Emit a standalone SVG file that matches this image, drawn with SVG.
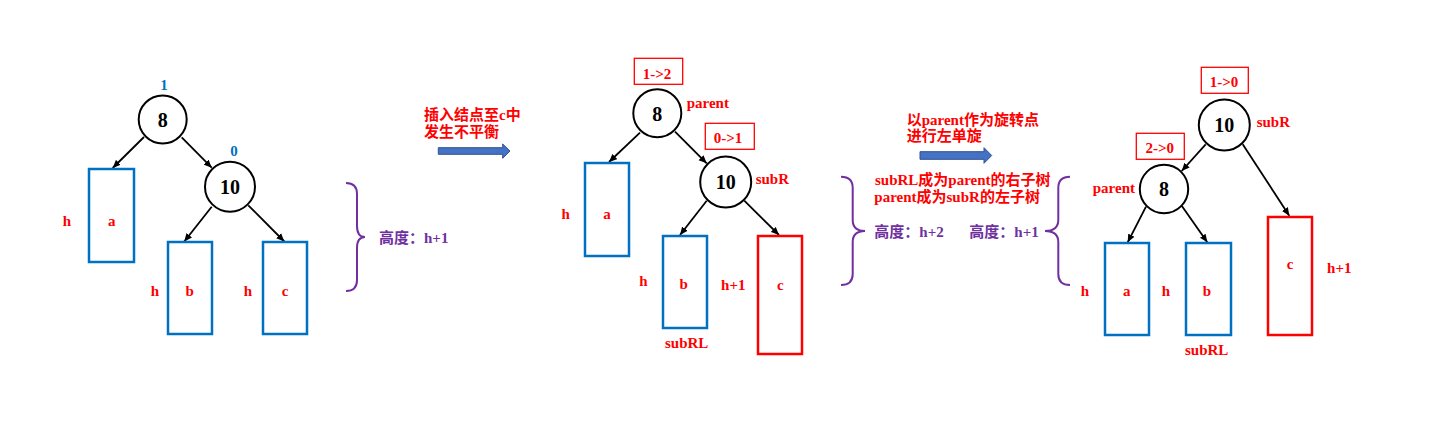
<svg xmlns="http://www.w3.org/2000/svg" width="1434" height="425" viewBox="0 0 1434 425">
<style>
.bg{fill:#fff}
.node circle{fill:#fff;stroke:#000;stroke-width:2}
.num{font-family:"Liberation Serif","Noto Sans CJK SC",serif;font-weight:bold;font-size:20px;fill:#000;text-anchor:middle}
.lbl{font-family:"Liberation Serif","Noto Sans CJK SC",serif;font-weight:bold;font-size:15px;fill:#f00}
.mid{text-anchor:middle}
.bal{font-family:"Liberation Serif","Noto Sans CJK SC",serif;font-weight:bold;font-size:15px;fill:#0070C0;text-anchor:middle}
.pur{font-family:"Liberation Serif","Noto Sans CJK SC",serif;font-weight:bold;font-size:15px;fill:#7030A0}
.cjk{font-family:"Noto Sans CJK SC","Liberation Serif",sans-serif;font-weight:bold;font-size:15px}
.sbt rect{fill:#fff;stroke:#0070C0;stroke-width:2.5}
.sbt.red rect{stroke:#f00}
.box{fill:none;stroke:#f00;stroke-width:1.3}
.brace{fill:none;stroke:#7030A0;stroke-width:2}
.edge{stroke:#000;stroke-width:1.8;fill:none;marker-end:url(#ah)}
.barrow{fill:#4472C4;stroke:#2F528F;stroke-width:1}
</style>
<defs>
<marker id="ah" viewBox="0 0 8 8" refX="8" refY="4" markerWidth="8" markerHeight="8" markerUnits="userSpaceOnUse" orient="auto">
<path d="M0,0.5 L8,4 L0,7.5 z" fill="#000"/>
</marker>
</defs>
<rect class="bg" x="0" y="0" width="1434" height="425"/>

<!-- connectors -->
<g id="connectors">
<line class="edge" x1="144" y1="137" x2="112.7" y2="168"/>
<line class="edge" x1="181.7" y1="137.3" x2="211.7" y2="167.7"/>
<line class="edge" x1="211.7" y1="206.7" x2="184.3" y2="241.5"/>
<line class="edge" x1="248.3" y1="205.3" x2="284.3" y2="241.5"/>

<line class="edge" x1="640" y1="132.7" x2="609" y2="162"/>
<line class="edge" x1="675" y1="131.7" x2="706.7" y2="163.3"/>
<line class="edge" x1="706.7" y1="200.7" x2="680" y2="235"/>
<line class="edge" x1="744.3" y1="200.7" x2="779" y2="235"/>

<line class="edge" x1="1205.7" y1="144.3" x2="1181.7" y2="171"/>
<line class="edge" x1="1242.7" y1="144.3" x2="1289.3" y2="215.7"/>
<line class="edge" x1="1146" y1="206.7" x2="1127.7" y2="242.3"/>
<line class="edge" x1="1181.7" y1="205.7" x2="1207.3" y2="242.3"/>
</g>

<!-- Tree 1 -->
<g id="t1-n8" class="node"><circle cx="162.7" cy="119.5" r="24"/><text class="num" x="162.7" y="126.7">8</text></g>
<g id="t1-n10" class="node"><circle cx="230" cy="186.7" r="25"/><text class="num" x="230" y="194">10</text></g>
<text class="bal" x="164" y="89.5">1</text>
<text class="bal" x="234" y="156">0</text>
<g id="t1-a" class="sbt"><rect x="89" y="169" width="45" height="93"/><text class="lbl mid" x="111.7" y="226">a</text></g>
<g id="t1-b" class="sbt"><rect x="168" y="242" width="44" height="92"/><text class="lbl mid" x="189.7" y="296">b</text></g>
<g id="t1-c" class="sbt"><rect x="263" y="242" width="44" height="92"/><text class="lbl mid" x="285" y="296">c</text></g>
<text class="lbl mid" x="67" y="226">h</text>
<text class="lbl mid" x="155" y="296">h</text>
<text class="lbl mid" x="248" y="296">h</text>
<path class="brace" d="M346,183 Q357,183 357,194 L357,226 Q357,237 365,237 Q357,237 357,248 L357,280 Q357,291 346,291"/>
<text class="pur" x="379" y="243">高度：h+1</text>

<!-- Step arrow 1 -->
<text class="lbl" x="424" y="119.5">插入结点至c中</text>
<text class="lbl" x="424" y="137">发生不平衡</text>
<polygon class="barrow" points="438.3,147.7 502.7,147.7 502.7,144 510,151 502.7,158.3 502.7,154.3 438.3,154.3"/>

<!-- Tree 2 -->
<rect class="box" x="634.3" y="58.3" width="48.4" height="26"/>
<text class="lbl mid" x="657" y="78.5">1-&gt;2</text>
<g id="t2-n8" class="node"><circle cx="657.3" cy="113.3" r="24"/><text class="num" x="657.3" y="120.7">8</text></g>
<text class="lbl" x="686.7" y="108">parent</text>
<rect class="box" x="705.3" y="123.3" width="49" height="26"/>
<text class="lbl mid" x="728" y="143.3">0-&gt;1</text>
<g id="t2-n10" class="node"><circle cx="725.7" cy="182" r="25.5"/><text class="num" x="725.7" y="189.3">10</text></g>
<text class="lbl" x="755.7" y="184.3">subR</text>
<g id="t2-a" class="sbt"><rect x="585" y="163" width="44" height="93"/><text class="lbl mid" x="607" y="219.3">a</text></g>
<g id="t2-b" class="sbt"><rect x="663" y="236" width="44" height="92"/><text class="lbl mid" x="683.7" y="289.3">b</text></g>
<g id="t2-c" class="sbt red"><rect x="758" y="236" width="44" height="118"/><text class="lbl mid" x="780.3" y="290">c</text></g>
<text class="lbl mid" x="565.7" y="219.3">h</text>
<text class="lbl mid" x="643.3" y="286">h</text>
<text class="lbl mid" x="733.3" y="290">h+1</text>
<text class="lbl mid" x="686.7" y="348.3">subRL</text>
<path class="brace" d="M841,176.7 Q852.7,176.7 852.7,188 L852.7,220 Q852.7,231 865,231 Q852.7,231 852.7,242 L852.7,274 Q852.7,285 841,285"/>

<!-- Step arrow 2 -->
<text class="lbl" x="906.7" y="124.5">以parent作为旋转点</text>
<text class="lbl" x="906.7" y="141">进行左单旋</text>
<polygon class="barrow" points="920,151.7 984,151.7 984,147.7 991.7,155.5 984,163.3 984,159.3 920,159.3"/>
<text class="lbl" x="875" y="184.5">subRL成为parent的右子树</text>
<text class="lbl" x="874.3" y="202">parent成为subR的左子树</text>
<text class="pur" x="874.3" y="237">高度：h+2</text>
<text class="pur" x="969.3" y="237">高度：h+1</text>
<path class="brace" d="M1070,176.7 Q1058.3,176.7 1058.3,188 L1058.3,220 Q1058.3,231 1045,231 Q1058.3,231 1058.3,242 L1058.3,274 Q1058.3,285 1070,285"/>

<!-- Tree 3 -->
<rect class="box" x="1201.3" y="67.3" width="47" height="26"/>
<text class="lbl mid" x="1224" y="87">1-&gt;0</text>
<g id="t3-n10" class="node"><circle cx="1224.3" cy="125" r="25.5"/><text class="num" x="1224.3" y="131.7">10</text></g>
<text class="lbl" x="1256.7" y="126.7">subR</text>
<rect class="box" x="1136.3" y="133.3" width="48" height="26"/>
<text class="lbl mid" x="1159.7" y="152.5">2-&gt;0</text>
<g id="t3-n8" class="node"><circle cx="1164" cy="189" r="24.2"/><text class="num" x="1164" y="196">8</text></g>
<text class="lbl" x="1135" y="192.5" text-anchor="end">parent</text>
<g id="t3-a" class="sbt"><rect x="1105" y="243" width="44" height="92"/><text class="lbl mid" x="1126.7" y="296">a</text></g>
<g id="t3-b" class="sbt"><rect x="1186" y="243" width="45" height="92"/><text class="lbl mid" x="1207" y="296">b</text></g>
<g id="t3-c" class="sbt red"><rect x="1268" y="217" width="44" height="118"/><text class="lbl mid" x="1290" y="269.3">c</text></g>
<text class="lbl mid" x="1085" y="296">h</text>
<text class="lbl mid" x="1166" y="296">h</text>
<text class="lbl mid" x="1339.3" y="272.5">h+1</text>
<text class="lbl mid" x="1206.7" y="355">subRL</text>
</svg>
